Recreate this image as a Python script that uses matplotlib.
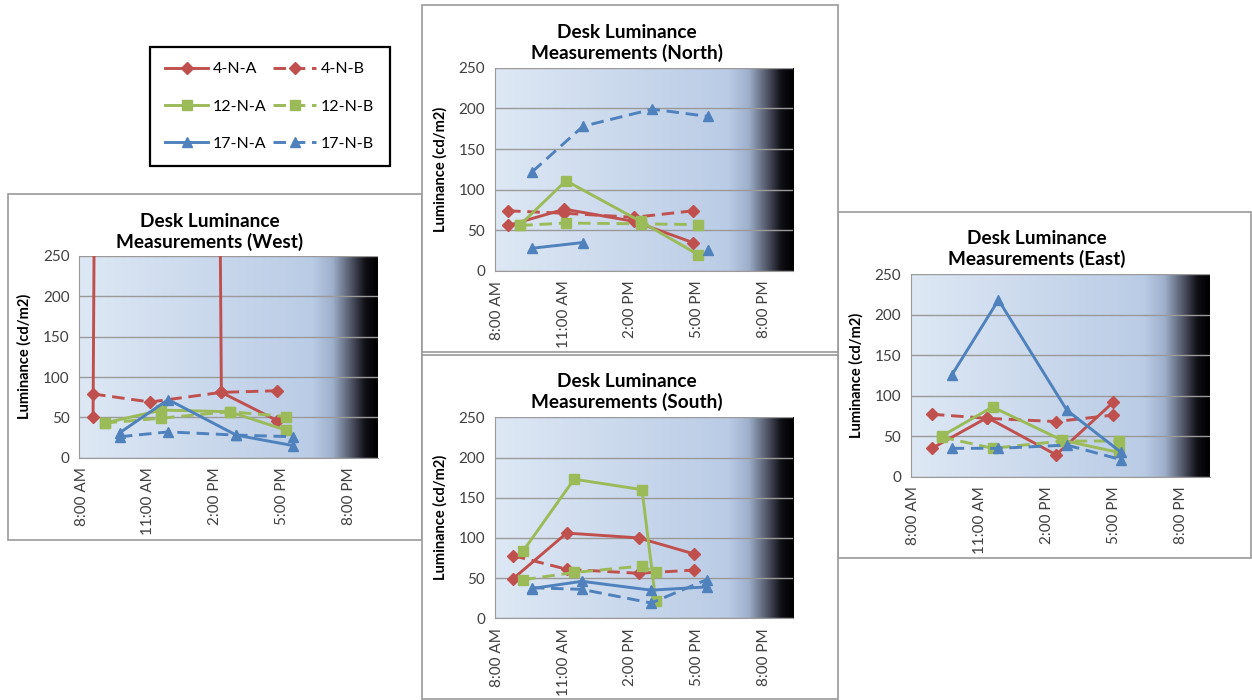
import numpy as np
import matplotlib.pyplot as plt
from matplotlib.colors import LinearSegmentedColormap
from matplotlib.patches import Rectangle
from matplotlib.lines import Line2D

plt.rcParams['font.family'] = ['Lato', 'DejaVu Sans']

W, H = 1252, 700

tick_hours = [8, 11, 14, 17, 20]
tick_labels = ['8:00 AM', '11:00 AM', '2:00 PM', '5:00 PM', '8:00 PM']
y_ticks = [0, 50, 100, 150, 200, 250]

names = ['4-N-A', '4-N-B', '12-N-A', '12-N-B', '17-N-A', '17-N-B']
red, green, blue = '#C0504D', '#9BBB59', '#4F81BD'

# West
west_t4 = ['8:31', '11:05', '14:16', '16:46']
west_t12 = ['9:02', '11:35', '14:38', '17:11']
west_t17 = ['9:43', '11:53', '14:56', '17:29']
west_4a = [50, 12000, 81, 46]
west_4b = [79, 69, 81, 83]
west_12a = [43, 59, 57, 34]
west_12b = [43, 49, 57, 51]
west_17a = [31, 72, 28, 15]
west_17b = [26, 32, 28, 26]

# North
north_t4 = ['8:30', '11:02', '14:10', '16:48']
north_t12 = ['9:03', '11:06', '14:27', '17:03']
north_t17 = ['9:35', '11:52', '14:59', '17:30']
north_4a = [56, 76, 61, 35]
north_4b = [74, 71, 66, 74]
north_12a = [57, 111, 61, 20]
north_12b = [56, 59, 58, 57]
north_17a = [28, 35, np.nan, 26]
north_17b = [122, 178, 199, 190]

# South
south_t4 = ['8:43', '11:08', '14:22', '16:52']
south_t12 = ['9:11', '11:28', '14:31', '15:08']
south_t17 = ['9:34', '11:49', '14:56', '17:25']
south_4a = [49, 106, 100, 80]
south_4b = [78, 61, 56, 60]
south_12a = [84, 173, 160, 22]
south_12b = [48, 57, 65, 57]
south_17a = [37, 46, 35, 39]
south_17b = [38, 36, 19, 48]

# East
east_t4 = ['8:51', '11:20', '14:25', '16:59']
east_t12 = ['9:17', '11:34', '14:41', '17:13']
east_t17 = ['9:44', '11:50', '14:54', '17:20']
east_4a = [35, 73, 27, 92]
east_4b = [77, 72, 68, 76]
east_12a = [50, 86, 45, 30]
east_12b = [49, 35, 44, 44]
east_17a = [125, 218, 82, 30]
east_17b = [35, 35, 39, 21]


def to_hours(times):
    out = []
    for t in times:
        h, m = t.split(':')
        out.append(int(h) + int(m) / 60)
    return out


dash = (0, (4.3, 2.3))
styles = [
    dict(color=red, marker='D', ms=6, ls='-'),
    dict(color=red, marker='D', ms=6, ls=dash),
    dict(color=green, marker='s', ms=7.5, ls='-'),
    dict(color=green, marker='s', ms=7.5, ls=dash),
    dict(color=blue, marker='^', ms=7.5, ls='-'),
    dict(color=blue, marker='^', ms=7.5, ls=dash),
]
LW = 2.1

bg_cmap = LinearSegmentedColormap.from_list('bg', [
    (0.0, (0.87, 0.91, 0.96)),
    (0.78, (0.73, 0.80, 0.90)),
    (0.85, (0.62, 0.69, 0.80)),
    (0.91, (0.33, 0.35, 0.42)),
    (0.96, (0.06, 0.06, 0.08)),
    (1.0, (0.0, 0.0, 0.0)),
])

fig = plt.figure(figsize=(W / 100, H / 100), dpi=100)


def frame(x0, y0, x1, y1):
    # white chart box behind each axes
    fig.add_artist(Rectangle((x0 / W, 1 - y1 / H), (x1 - x0) / W, (y1 - y0) / H,
                             transform=fig.transFigure, facecolor='white',
                             edgecolor='#9a9a9a', lw=1.2, zorder=-1))


def panel(box, plot, title, title_x, title_y, times, values):
    frame(*box)
    x0, y0, x1, y1 = plot
    ax = fig.add_axes([x0 / W, 1 - y1 / H, (x1 - x0) / W, (y1 - y0) / H])
    ax.patch.set_alpha(0)
    grad = np.linspace(0, 1, 600).reshape(1, -1)
    ax.imshow(grad, cmap=bg_cmap, aspect='auto', extent=[7.9, 21.3, 0, 250], zorder=0)
    for t, v, st in zip(times, values, styles):
        ax.plot(to_hours(t), v, lw=LW, mec=st['color'], zorder=3, **st)
    ax.set_xlim(7.9, 21.3)
    ax.set_ylim(0, 250)
    ax.set_xticks(tick_hours)
    ax.set_xticklabels(tick_labels, rotation=90, fontsize=11, color='#404040')
    ax.set_yticks(y_ticks)
    ax.tick_params(axis='y', labelsize=11, colors='#404040', length=0, pad=7)
    ax.tick_params(axis='x', length=0, pad=7)
    ax.set_axisbelow(True)
    ax.yaxis.grid(True, color='#9a9a9a', lw=1)
    for s in ['top', 'right']:
        ax.spines[s].set_visible(False)
    for s in ['left', 'bottom']:
        ax.spines[s].set_color('#9a9a9a')
    ax.set_ylabel('Luminance (cd/m2)', fontsize=10.5, fontweight='bold')
    ax.yaxis.set_label_coords(-47.6 / (x1 - x0), 0.5)
    fig.text(title_x / W, 1 - title_y / H, title, ha='center', va='center',
             fontsize=13.7, fontweight='bold', linespacing=1.25)
    return ax


panel((8, 194, 422, 540), (79.3, 256, 378.3, 457.7),
      'Desk Luminance\nMeasurements (West)', 210, 232,
      [west_t4, west_t4, west_t12, west_t12, west_t17, west_t17],
      [west_4a, west_4b, west_12a, west_12b, west_17a, west_17b])

panel((838, 212, 1251, 558), (910.7, 274, 1209.7, 476.7),
      'Desk Luminance\nMeasurements (East)', 1037, 249,
      [east_t4, east_t4, east_t12, east_t12, east_t17, east_t17],
      [east_4a, east_4b, east_12a, east_12b, east_17a, east_17b])

panel((422, 5, 838, 352), (494.7, 67.7, 793, 271),
      'Desk Luminance\nMeasurements (North)', 627, 43,
      [north_t4, north_t4, north_t12, north_t12, north_t17, north_t17],
      [north_4a, north_4b, north_12a, north_12b, north_17a, north_17b])

panel((422, 355, 838, 699), (494.7, 417.3, 793, 618.3),
      'Desk Luminance\nMeasurements (South)', 627, 392,
      [south_t4, south_t4, south_t12, south_t12, south_t17, south_t17],
      [south_4a, south_4b, south_12a, south_12b, south_17a, south_17b])

# shared legend box, filled column by column
handles = [Line2D([], [], lw=LW, mec=st['color'], **st) for st in styles]
order = [0, 2, 4, 1, 3, 5]
leg = fig.legend([handles[i] for i in order], [names[i] for i in order],
                 ncol=2, loc='upper left', bbox_to_anchor=(150 / W, 1 - 47 / H),
                 borderaxespad=0, fontsize=11.5, handlelength=2.7, labelspacing=1.45,
                 columnspacing=0.4, handletextpad=0.3, borderpad=0.95,
                 fancybox=False, framealpha=1)
leg.get_frame().set_edgecolor('black')
leg.get_frame().set_linewidth(1.6)

fig.savefig('out.png', dpi=100)
